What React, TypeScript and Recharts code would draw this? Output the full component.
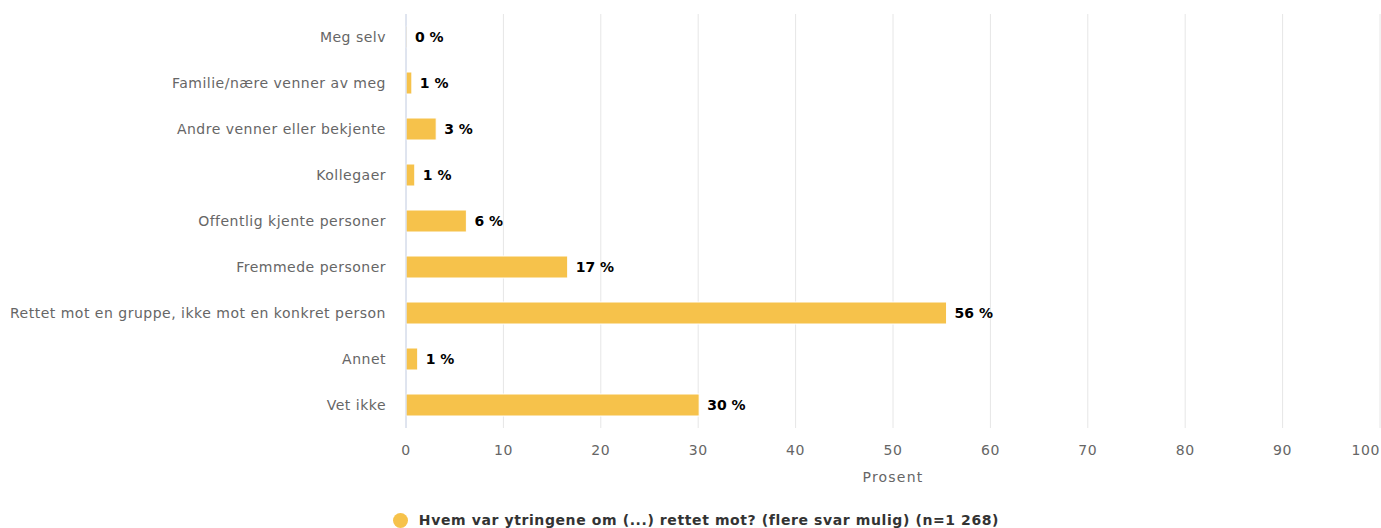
import React from "react"
import { Bar, BarChart, CartesianGrid, LabelList, Legend, XAxis, YAxis } from "recharts"

const categories = [
  "Meg selv",
  "Familie/nære venner av meg",
  "Andre venner eller bekjente",
  "Kollegaer",
  "Offentlig kjente personer",
  "Fremmede personer",
  "Rettet mot en gruppe, ikke mot en konkret person",
  "Annet",
  "Vet ikke",
]

const values = [0.1, 0.6, 3.1, 0.9, 6.2, 16.6, 55.5, 1.2, 30.1]

const xTicks = [0, 10, 20, 30, 40, 50, 60, 70, 80, 90, 100]

const seriesName = "Hvem var ytringene om (...) rettet mot? (flere svar mulig) (n=1 268)"

const data = categories.map((name, i) => ({ name, value: values[i] }))

const FONT = "'DejaVu Sans', sans-serif"
const BAR_COLOR = "#f6c24b"

function XTick(props: any) {
  const { x, y, payload } = props
  const last = payload.value === xTicks[xTicks.length - 1]
  return (
    <text
      x={x}
      y={y}
      dy="0.71em"
      textAnchor={last ? "end" : "middle"}
      fill="#666666"
      fontSize={14}
      letterSpacing={0.6}
      fontFamily={FONT}
    >
      {payload.value}
    </text>
  )
}

function LegendContent() {
  return (
    <div
      style={{
        height: 36,
        display: "flex",
        alignItems: "flex-end",
        justifyContent: "center",
        paddingLeft: 12,
      }}
    >
      <div style={{ display: "flex", alignItems: "center", height: 18, marginBottom: -1 }}>
        <span
          style={{
            width: 15,
            height: 15,
            borderRadius: 8,
            background: BAR_COLOR,
            display: "inline-block",
            marginRight: 11,
          }}
        />
        <span
          style={{
            fontFamily: FONT,
            fontSize: 14,
            letterSpacing: 0.6,
            fontWeight: "bold",
            color: "#333333",
          }}
        >
          {seriesName}
        </span>
      </div>
    </div>
  )
}

export default function App() {
  return (
    <div style={{ position: "absolute", left: 0, top: 0, width: 1381, height: 528, background: "#fff" }}>
      <BarChart
        width={1381}
        height={528}
        data={data}
        layout="vertical"
        margin={{ top: 14, right: 1, left: 0, bottom: 0 }}
        barCategoryGap={0}
      >
        <CartesianGrid horizontal={false} stroke="#e6e6e6" />
        <XAxis
          type="number"
          domain={[0, 100]}
          ticks={xTicks}
          interval={0}
          axisLine={false}
          tickLine={false}
          tickSize={0}
          tickMargin={17}
          height={64}
          tick={<XTick />}
          label={{
            value: "Prosent",
            position: "insideBottom",
            offset: 10,
            fill: "#666666",
            fontSize: 14,
            letterSpacing: 1.2,
            fontFamily: FONT,
          }}
        />
        <YAxis
          type="category"
          dataKey="name"
          width={406}
          axisLine={{ stroke: "#ccd6eb" }}
          tickLine={false}
          tickSize={0}
          tickMargin={20}
          interval={0}
          tick={{ fill: "#666666", fontSize: 14, letterSpacing: 0.5, fontFamily: FONT }}
        />
        <Legend verticalAlign="bottom" content={<LegendContent />} />
        <Bar
          dataKey="value"
          name={seriesName}
          fill={BAR_COLOR}
          stroke="#ffffff"
          strokeWidth={1}
          barSize={22}
          isAnimationActive={false}
        >
          <LabelList
            dataKey="value"
            position="right"
            offset={8}
            formatter={(v: any) => `${Math.round(Number(v))} %`}
            style={{ fill: "#000000", fontSize: 14, fontWeight: "bold", fontFamily: FONT }}
          />
        </Bar>
      </BarChart>
    </div>
  )
}
